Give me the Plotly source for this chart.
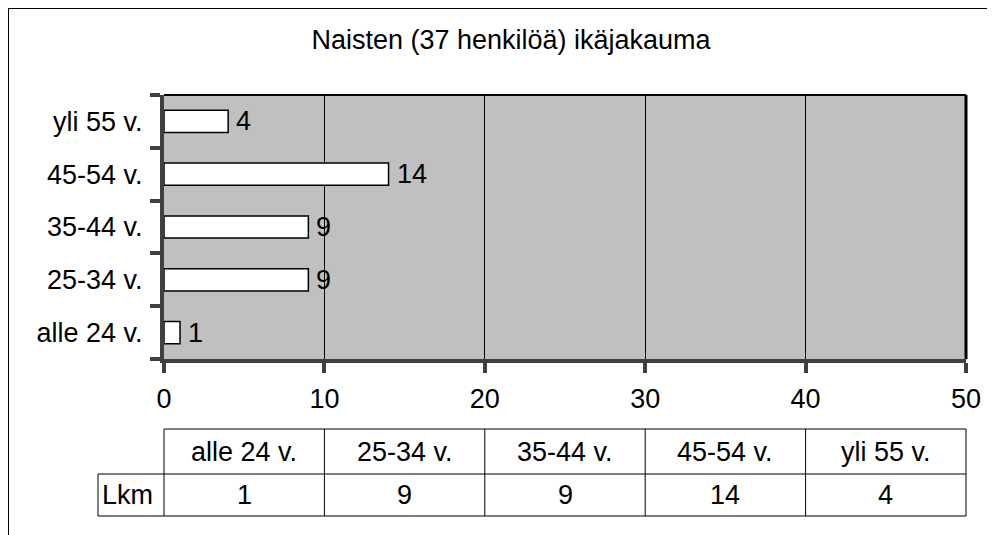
import plotly.graph_objects as go

# ---- data ----
categories = ["alle 24 v.", "25-34 v.", "35-44 v.", "45-54 v.", "yli 55 v."]
counts = [1, 9, 9, 14, 4]
row_label = "Lkm"
title_text = "Naisten (37 henkilöä) ikäjakauma"
x_ticks = [0, 10, 20, 30, 40, 50]

# ---- layout constants (page pixels; the page body adds an 8px offset) ----
OFF = 8
W, H = 995 - OFF, 535 - OFF
PLOT_L, PLOT_R, PLOT_T, PLOT_B = 164, 966, 95, 359   # page coords
L = PLOT_L - OFF
R = W - (PLOT_R - OFF)
T = PLOT_T - OFF
B = H - (PLOT_B - OFF)
PH = H - T - B
PW = W - L - R
FONT = "Liberation Sans, Arial, sans-serif"
FS = 27


def py(p):
    """page pixel y -> paper y"""
    return (PLOT_B - p) / PH


def px(p):
    """page pixel x -> paper/domain x"""
    return (p - PLOT_L) / PW


fig = go.Figure()
fig.add_trace(go.Bar(
    x=counts, y=categories, orientation="h",
    marker=dict(color="white", line=dict(color="black", width=1.5)),
    hoverinfo="skip",
))

annotations = []
# data labels
for c, v in zip(categories, counts):
    annotations.append(dict(x=v, y=c, xref="x", yref="y", text=str(v),
                            showarrow=False, xanchor="left", yanchor="middle",
                            xshift=6, font=dict(size=FS, color="black", family=FONT)))

# data table
n = len(categories)
xmax = x_ticks[-1]
row1_top, row_mid, row_bot = 429, 474, 516
lkm_left = 98
shapes = []
line_style = dict(color="black", width=1)
shapes.append(dict(type="line", xref="x domain", yref="paper", x0=0, x1=1,
                   y0=py(row1_top), y1=py(row1_top), line=line_style))
for yy in (row_mid, row_bot):
    shapes.append(dict(type="line", xref="x domain", yref="paper", x0=px(lkm_left), x1=1,
                       y0=py(yy), y1=py(yy), line=line_style))
shapes.append(dict(type="line", xref="x domain", yref="paper", x0=px(lkm_left), x1=px(lkm_left),
                   y0=py(row_mid), y1=py(row_bot), line=line_style))
for i in range(n + 1):
    shapes.append(dict(type="line", xref="x domain", yref="paper", x0=i / n, x1=i / n,
                       y0=py(row1_top), y1=py(row_bot), line=line_style))

for i, (c, v) in enumerate(zip(categories, counts)):
    xc = (i + 0.5) / n
    annotations.append(dict(x=xc, y=py((row1_top + row_mid) / 2), xref="x domain", yref="paper",
                            text=c, showarrow=False, xanchor="center", yanchor="middle",
                            font=dict(size=FS, color="black", family=FONT)))
    annotations.append(dict(x=xc, y=py((row_mid + row_bot) / 2), xref="x domain", yref="paper",
                            text=str(v), showarrow=False, xanchor="center", yanchor="middle",
                            font=dict(size=FS, color="black", family=FONT)))
annotations.append(dict(x=px(lkm_left + 2), y=py((row_mid + row_bot) / 2), xref="x domain", yref="paper",
                        text=row_label, showarrow=False, xanchor="left", yanchor="middle",
                        font=dict(size=FS, color="black", family=FONT)))

# top & right plot borders
shapes.append(dict(type="line", xref="x domain", yref="y domain", x0=0, x1=1, y0=1, y1=1,
                   line=dict(color="black", width=2)))
shapes.append(dict(type="line", xref="x domain", yref="y domain", x0=1, x1=1, y0=0, y1=1,
                   line=dict(color="black", width=3)))
# outer chart frame (left & top)
shapes.append(dict(type="line", xref="paper", yref="paper", x0=px(8), x1=px(8),
                   y0=py(8), y1=py(H + 30), line=dict(color="black", width=2)))
shapes.append(dict(type="line", xref="paper", yref="paper", x0=px(8), x1=px(W + 30),
                   y0=py(8), y1=py(8), line=dict(color="black", width=2)))

fig.update_layout(
    width=W, height=H,
    margin=dict(l=L, r=R, t=T, b=B, pad=0),
    paper_bgcolor="white",
    plot_bgcolor="#c0c0c0",
    bargap=0.58,
    showlegend=False,
    font=dict(family=FONT, size=FS, color="black"),
    title=dict(text=title_text, x=(511 - OFF) / W, xref="container", xanchor="center",
               y=1 - (40 - OFF) / H, yref="container", yanchor="middle",
               font=dict(size=FS, color="black", family=FONT)),
    xaxis=dict(range=[0, xmax], tickvals=x_ticks, showgrid=True, gridcolor="black", gridwidth=1,
               showline=True, linecolor="#404040", linewidth=4,
               ticks="outside", ticklen=10, tickwidth=4, tickcolor="#404040",
               ticklabelstandoff=3,
               zeroline=False, tickfont=dict(size=FS), fixedrange=True),
    yaxis=dict(type="category", categoryorder="array", categoryarray=categories,
               showline=True, linecolor="#404040", linewidth=4,
               ticks="outside", tickson="boundaries", ticklen=10, tickwidth=4, tickcolor="#404040",
               ticklabelstandoff=12,
               showgrid=False, tickfont=dict(size=FS), fixedrange=True),
    annotations=annotations,
    shapes=shapes,
)

fig.write_html("out.html")
